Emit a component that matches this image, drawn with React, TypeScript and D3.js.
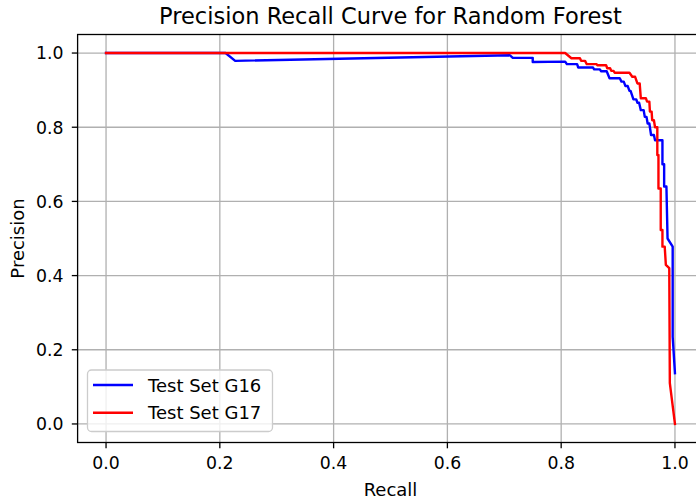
import React from "react";
import * as d3 from "d3";

const width = 696;
const height = 500;

// recall / precision pairs
const recallG16 = [0, 0.21, 0.227, 0.71, 0.715, 0.75, 0.75, 0.807, 0.81, 0.828, 0.83, 0.856, 0.858, 0.868, 0.87, 0.88, 0.885, 0.903, 0.906, 0.91, 0.913, 0.917, 0.92, 0.922, 0.927, 0.932, 0.934, 0.937, 0.94, 0.945, 0.947, 0.95, 0.952, 0.955, 0.958, 0.963, 0.965, 0.978, 0.978, 0.981, 0.981, 0.985, 0.987, 0.996, 0.996, 1.0];
const precisionG16 = [1, 1, 0.979, 0.994, 0.987, 0.987, 0.976, 0.977, 0.97, 0.97, 0.961, 0.961, 0.956, 0.956, 0.951, 0.951, 0.932, 0.932, 0.923, 0.923, 0.911, 0.911, 0.898, 0.898, 0.875, 0.875, 0.866, 0.866, 0.846, 0.846, 0.828, 0.828, 0.81, 0.81, 0.779, 0.779, 0.765, 0.765, 0.7, 0.7, 0.64, 0.64, 0.5, 0.478, 0.235, 0.137];

const recallG17 = [0, 0.807, 0.818, 0.833, 0.835, 0.842, 0.845, 0.862, 0.864, 0.879, 0.881, 0.886, 0.888, 0.892, 0.894, 0.92, 0.925, 0.93, 0.934, 0.938, 0.94, 0.949, 0.951, 0.955, 0.956, 0.959, 0.96, 0.963, 0.965, 0.969, 0.969, 0.971, 0.971, 0.975, 0.975, 0.978, 0.978, 0.982, 0.984, 0.99, 0.991, 1.0];
const precisionG17 = [1, 1, 0.986, 0.986, 0.979, 0.979, 0.97, 0.97, 0.967, 0.967, 0.959, 0.959, 0.952, 0.952, 0.947, 0.947, 0.936, 0.936, 0.918, 0.918, 0.878, 0.878, 0.869, 0.869, 0.842, 0.842, 0.819, 0.819, 0.8, 0.8, 0.725, 0.725, 0.635, 0.635, 0.523, 0.523, 0.478, 0.478, 0.429, 0.42, 0.11, 0.0];

const ticks = [0, 0.2, 0.4, 0.6, 0.8, 1.0];

const series = [
  { name: "Test Set G16", color: "#0000ff", r: recallG16, p: precisionG16 },
  { name: "Test Set G17", color: "#ff0000", r: recallG17, p: precisionG17 },
];

const font = "'DejaVu Sans', sans-serif";

export default function App() {
  const x = d3.scaleLinear().domain([-0.05, 1.05]).range([77.6, 703.4]);
  const y = d3.scaleLinear().domain([-0.05, 1.05]).range([442.5, 34.5]);

  const line = d3
    .line<number[]>()
    .x((d) => x(d[0]))
    .y((d) => y(d[1]));

  const left = x.range()[0];
  const right = x.range()[1];
  const top = y.range()[1];
  const bottom = y.range()[0];

  return (
    <svg
      width={width}
      height={height}
      style={{ position: "absolute", left: 0, top: 0, background: "#fff" }}
      fontFamily={font}
    >
      <defs>
        <clipPath id="plot">
          <rect x={left} y={top} width={right - left} height={bottom - top} />
        </clipPath>
      </defs>

      {/* grid */}
      {ticks.map((t) => (
        <line key={"gx" + t} x1={x(t)} x2={x(t)} y1={top} y2={bottom} stroke="#b0b0b0" strokeWidth={1.3} />
      ))}
      {ticks.map((t) => (
        <line key={"gy" + t} x1={left} x2={right} y1={y(t)} y2={y(t)} stroke="#b0b0b0" strokeWidth={1.3} />
      ))}

      {/* curves */}
      <g clipPath="url(#plot)">
        {series.map((s) => (
          <path
            key={s.name}
            d={line(s.r.map((r, i) => [r, s.p[i]])) || ""}
            fill="none"
            stroke={s.color}
            strokeWidth={2.4}
            strokeLinejoin="round"
            strokeLinecap="square"
          />
        ))}
      </g>

      {/* frame */}
      <rect x={left} y={top} width={right - left} height={bottom - top} fill="none" stroke="#000" strokeWidth={1.3} />

      {/* x ticks */}
      {ticks.map((t) => (
        <g key={"tx" + t}>
          <line x1={x(t)} x2={x(t)} y1={bottom} y2={bottom + 5.8} stroke="#000" strokeWidth={1.3} />
          <text x={x(t)} y={469} textAnchor="middle" fontSize={17.3} fill="#000">
            {t.toFixed(1)}
          </text>
        </g>
      ))}

      {/* y ticks */}
      {ticks.map((t) => (
        <g key={"ty" + t}>
          <line x1={left - 5.8} x2={left} y1={y(t)} y2={y(t)} stroke="#000" strokeWidth={1.3} />
          <text x={63.5} y={y(t) + 6.3} textAnchor="end" fontSize={17.3} fill="#000">
            {t.toFixed(1)}
          </text>
        </g>
      ))}

      {/* labels */}
      <text x={(left + right) / 2} y={496} textAnchor="middle" fontSize={18} fill="#000">
        Recall
      </text>
      <text
        transform={`translate(23.5, ${(top + bottom) / 2}) rotate(-90)`}
        textAnchor="middle"
        fontSize={18}
        fill="#000"
      >
        Precision
      </text>
      <text x={(left + right) / 2} y={23.5} textAnchor="middle" fontSize={22.5} fill="#000">
        Precision Recall Curve for Random Forest
      </text>

      {/* legend */}
      <rect x={87.5} y={370} width={185} height={61.5} rx={4} fill="#fff" fillOpacity={0.8} stroke="#cccccc" strokeWidth={1.3} />
      {series.map((s, i) => (
        <g key={"lg" + s.name}>
          <line x1={93} x2={133} y1={385 + i * 27.7} y2={385 + i * 27.7} stroke={s.color} strokeWidth={2.4} />
          <text x={148} y={385 + i * 27.7 + 6.5} fontSize={18} fill="#000">
            {s.name}
          </text>
        </g>
      ))}
    </svg>
  );
}
